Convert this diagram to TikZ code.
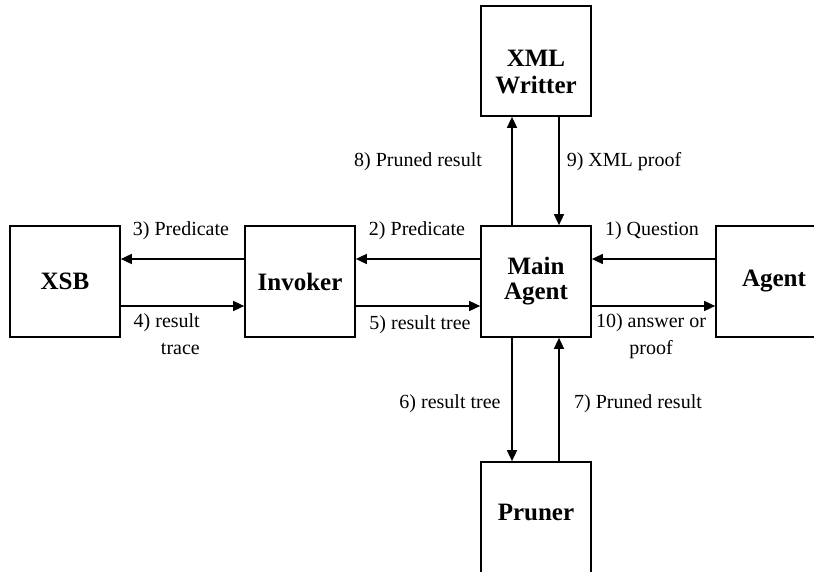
\documentclass[tikz,border=0pt]{standalone}
\usepackage{fontspec}
\setmainfont{Liberation Serif}
\usetikzlibrary{arrows.meta}
\begin{document}
\begin{tikzpicture}[x=1pt,y=-1pt,
  block/.style={draw,line width=1.7pt,minimum width=110pt,minimum height=111pt,
    inner sep=0pt,align=center,font=\fontsize{25}{25}\selectfont\bfseries},
  flow/.style={line width=1.6pt,-{Triangle[length=11pt,width=10pt]}},
  lbl/.style={inner sep=0pt,font=\fontsize{20}{27}\selectfont}]
\useasboundingbox (0,0) rectangle (814,572);
\clip (0,0) rectangle (814,572);
% blocks
\node[block] (xsb)  at (65,281.5)  {XSB};
\node[block] (inv)  at (300,281.5) {Invoker};
\node[block] (main) at (536,281.5) {Main\\Agent};
\node[block,minimum width=116pt] (agent) at (774,281.5) {\raisebox{3pt}{Agent}};
\node[block,minimum height=110pt] (xml) at (536,61)
  {\raisebox{-20pt}[0pt][0pt]{\fontsize{25}{27}\selectfont\begin{tabular}{@{}c@{}}XML\\Writter\end{tabular}}};
\node[block,minimum height=120pt] (prun) at (536,522) {\raisebox{20pt}{Pruner}};
% lanes of the connectors
\coordinate (rowA) at (0,259);
\coordinate (rowB) at (0,306);
\coordinate (colA) at (512,0);
\coordinate (colB) at (559,0);
% horizontal connectors
\draw[flow] (inv.west |- rowA) -- (xsb.east |- rowA);
\draw[flow] (xsb.east |- rowB) -- (inv.west |- rowB);
\draw[flow] (main.west |- rowA) -- (inv.east |- rowA);
\draw[flow] (inv.east |- rowB) -- (main.west |- rowB);
\draw[flow] (agent.west |- rowA) -- (main.east |- rowA);
\draw[flow] (main.east |- rowB) -- (agent.west |- rowB);
% vertical connectors
\draw[flow] (main.north -| colA) -- (xml.south -| colA);
\draw[flow] (xml.south -| colB) -- (main.north -| colB);
\draw[flow] (main.south -| colA) -- (prun.north -| colA);
\draw[flow] (prun.north -| colB) -- (main.south -| colB);
% labels
\node[lbl] at (181,231) {3) Predicate};
\node[lbl,align=right,anchor=north east] at (200,313) {4) result\\trace};
\node[lbl] at (417,231) {2) Predicate};
\node[lbl] at (420,325) {5) result tree};
\node[lbl] at (652,231) {1) Question};
\node[lbl,align=center,anchor=north] at (651,313) {10) answer or\\proof};
\node[lbl] at (418,162) {8) Pruned result};
\node[lbl] at (624,162) {9) XML proof};
\node[lbl] at (450,404) {6) result tree};
\node[lbl] at (638,404) {7) Pruned result};
\end{tikzpicture}
\end{document}
